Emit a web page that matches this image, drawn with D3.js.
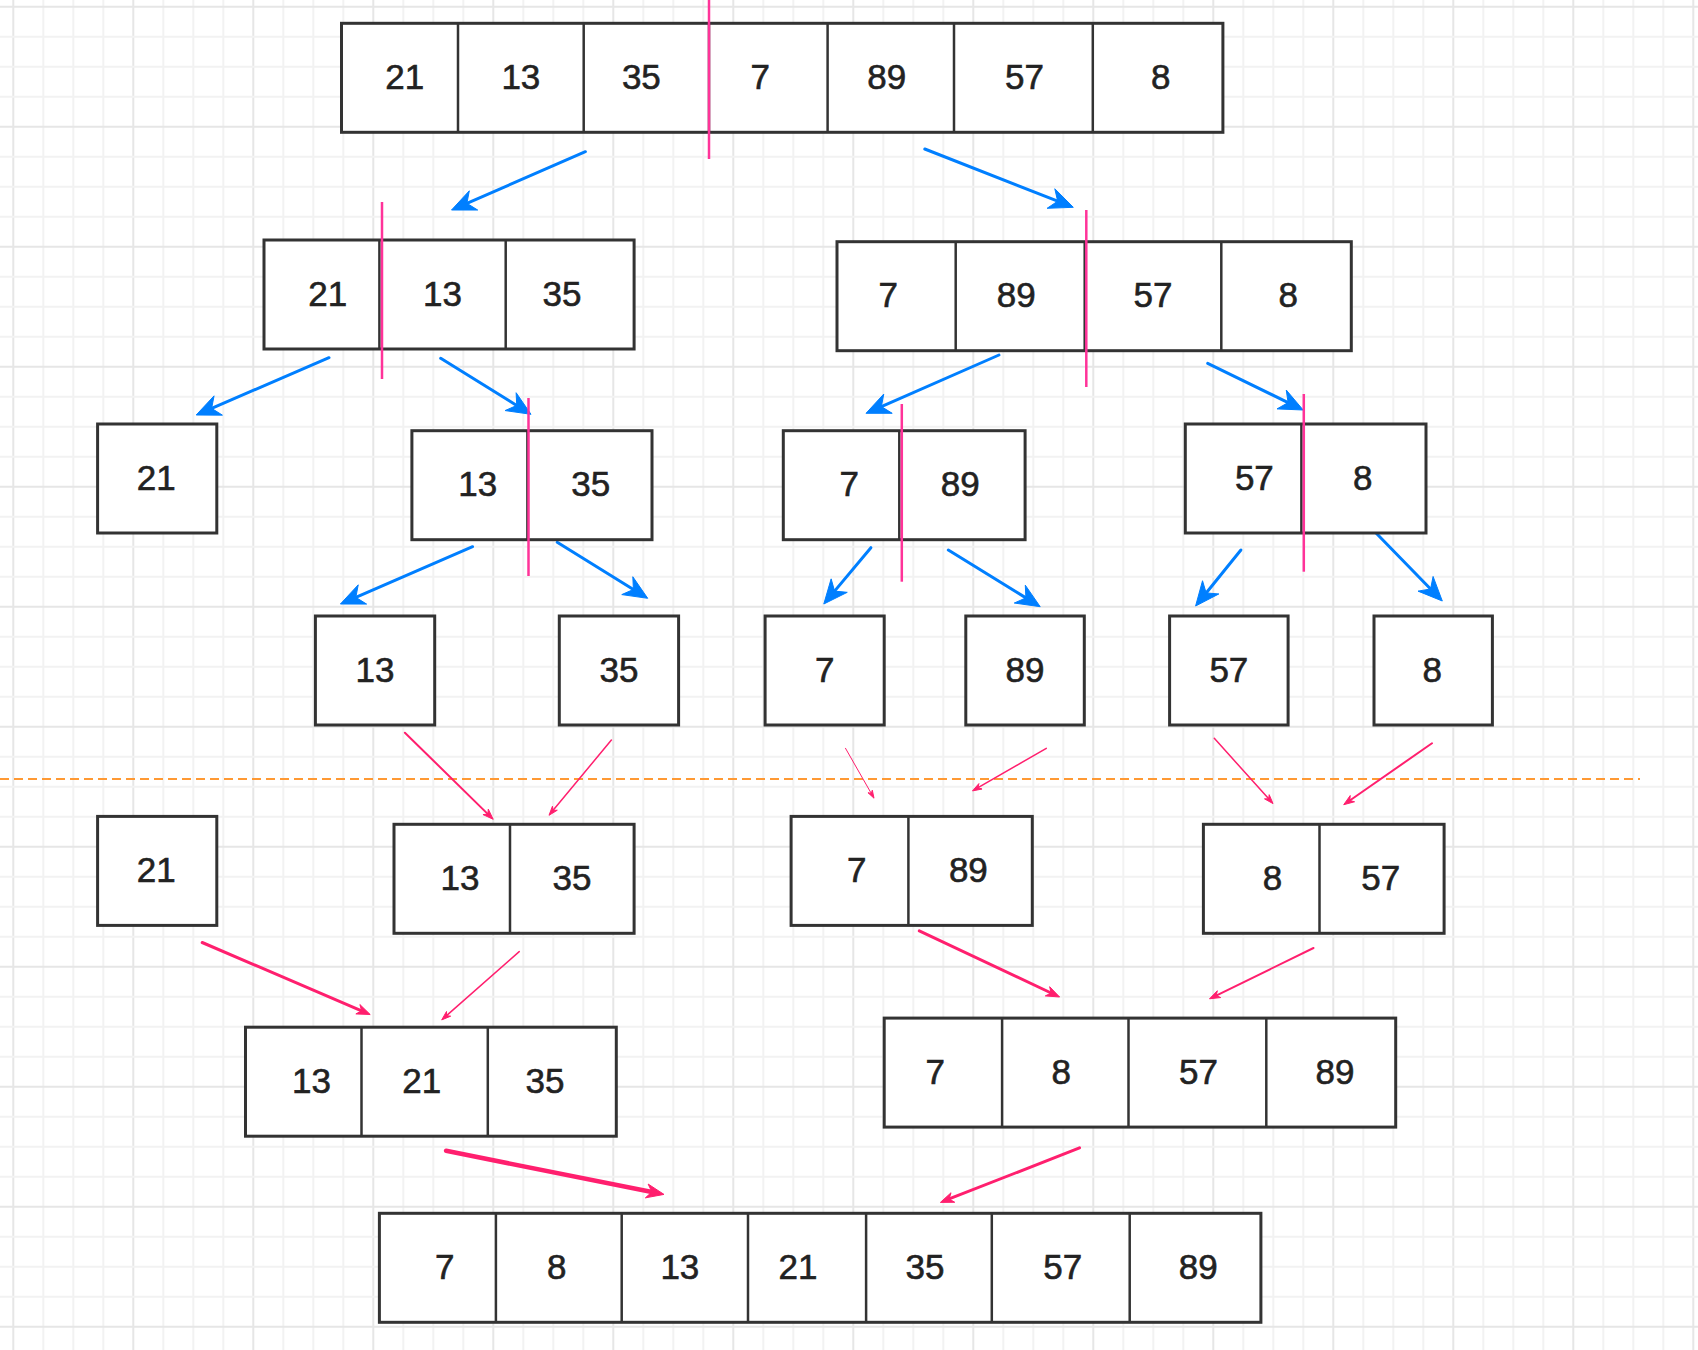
<!DOCTYPE html>
<html lang="en">
<head>
    <meta charset="UTF-8">
    <title>Merge Sort</title>
    <script src="https://d3js.org/d3.v7.min.js"></script>
    <style>
        body {
            margin: 0;
            background: #fff;
        }
        svg {
            display: block;
        }
        .cell-label {
            font-family: 'Liberation Sans', Arial, Helvetica, sans-serif;
            font-size: 35px;
            fill: #222;
            stroke: #222;
            stroke-width: 0.6px;
        }
    </style>
</head>
<body>
    <div id="chart"></div>

    <script>
        // Arrays shown in each box (split phase on top, merge phase below the dashed line)
        const boxValues = [
            [21, 13, 35, 7, 89, 57, 8],
            [21, 13, 35], [7, 89, 57, 8],
            [21], [13, 35], [7, 89], [57, 8],
            [13], [35], [7], [89], [57], [8],
            [21], [13, 35], [7, 89], [8, 57],
            [13, 21, 35], [7, 8, 57, 89],
            [7, 8, 13, 21, 35, 57, 89]
        ];

        // Cell edges of each box (diagram units)
        const boxEdges = [
            [341.5, 458, 583.7, 709, 827.6, 954, 1092.8, 1222.9],
            [264, 379.4, 505.7, 634.1], [837, 955.7, 1084.7, 1221.3, 1351.3],
            [97.6, 216.8], [411.9, 527.4, 652], [783.3, 899.3, 1025.1], [1185.3, 1301.4, 1426],
            [315.4, 434.7], [559.3, 678.6], [765.1, 884.2], [965.8, 1084.3], [1169.6, 1288.1], [1374, 1492.4],
            [97.6, 216.8], [394, 510, 634.1], [791.1, 908.4, 1032.3], [1203.4, 1319.5, 1444.1],
            [245.5, 361.5, 487.8, 616.3], [884.2, 1002.1, 1128.5, 1266.3, 1395.7],
            [379.4, 495.9, 621.7, 748, 866.1, 991.8, 1129.7, 1260.9]
        ];

        // Horizontal shift of each label from its cell centre (diagram units)
        const labelShifts = [
            [5, 0, -5, -8, -4, 1, 3],
            [6, 0, -8], [-8, -4, 0, 2],
            [-1], [8, 1], [8, -2], [11, -1],
            [0], [0], [0], [0], [0], [-1],
            [-1], [8, 0], [7, -2], [11, -1],
            [8, -3, -7], [-8, -4, 1, 4],
            [7, -2, -5, -9, -4, 2, 3]
        ];

        // Top of each box (diagram units)
        const boxTops = [
            23.3,
            240, 241.7,
            424, 430.7, 430.7, 424,
            616, 616, 616, 616, 616, 616,
            816.4, 824.3, 816.4, 824.3,
            1027.2, 1018.1,
            1213.3
        ];
        const boxHeight = 109;

        // Split points: x, y from, y to
        const splitMarks = [
            [709, 0, 159],
            [382, 202, 379],
            [1086.3, 210, 387],
            [528.5, 398, 576],
            [901.8, 404, 581.7],
            [1303.8, 394, 571.7]
        ];

        // Split arrows (blue): x1, y1, x2, y2
        const splitArrows = [
            [585.4, 151.7, 451.5, 210],
            [924.8, 149, 1073.3, 207.3],
            [329, 357.7, 196.2, 415],
            [440.7, 358.3, 531, 414.3],
            [999, 355, 866, 413.3],
            [1207.7, 363.3, 1303.2, 410],
            [472.6, 546.7, 340.4, 604],
            [557.2, 542.3, 647.7, 598.3],
            [870.9, 547.7, 823.8, 604],
            [948.3, 550, 1040.2, 606.7],
            [1240.9, 550, 1195.6, 606],
            [1375.8, 532.7, 1442.3, 601]
        ];

        // Merge arrows (pink): x1, y1, x2, y2, weight
        const mergeArrows = [
            [404.9, 732.7, 493.2, 819.3, 2],
            [611.4, 740, 549, 815.3, 1.5],
            [845.5, 748.3, 874, 798.2, 1],
            [1046.3, 748.3, 972.5, 790.9, 1.5],
            [1214.3, 738.3, 1273, 803.6, 1.5],
            [1432, 743.3, 1343.7, 804.7, 2],
            [202.2, 942.5, 370.2, 1014.5, 3],
            [519.2, 951.6, 441.7, 1019.9, 1.5],
            [919.3, 930.9, 1059.6, 997, 3],
            [1313.5, 948, 1209.5, 998.8, 2],
            [446.1, 1150.8, 664, 1194.4, 4.5],
            [1079.5, 1147.9, 940.4, 1202.4, 3]
        ];

        // Dashed line between split and merge phases: x from, x to, y
        const phaseLine = [0, 1640, 779];

        const config = {
            width: 1698,
            height: 1350,
            grid: { x0: 13.3, y0: 6.7, minor: 30, major: 120 },
            colors: {
                gridMinor: '#f2f2f2',
                gridMajor: '#e6e6e6',
                box: '#333',
                split: '#007fff',
                mark: '#ff3399',
                merge: '#ff1f6e',
                phase: '#ff9933'
            }
        };

        const x = d3.scaleLinear().domain([0, config.width]).range([0, config.width]);
        const y = d3.scaleLinear().domain([0, config.height]).range([0, config.height]);

        const svg = d3.select('#chart')
            .append('svg')
            .attr('width', config.width)
            .attr('height', config.height);

        svg.append('rect')
            .attr('width', config.width)
            .attr('height', config.height)
            .attr('fill', '#fff');

        // Background grid
        const g = config.grid;
        const gridG = svg.append('g');
        const vLines = d3.range(g.x0, config.width, g.minor);
        const hLines = d3.range(g.y0, config.height, g.minor);
        const isMajor = (v, o) => Math.abs(((v - o) / g.major) - Math.round((v - o) / g.major)) < 0.01;

        gridG.selectAll('.v')
            .data(vLines)
            .enter().append('line')
            .attr('x1', d => x(d)).attr('x2', d => x(d))
            .attr('y1', 0).attr('y2', config.height)
            .attr('stroke', d => isMajor(d, g.x0) ? config.colors.gridMajor : config.colors.gridMinor)
            .attr('stroke-width', 2);

        gridG.selectAll('.h')
            .data(hLines)
            .enter().append('line')
            .attr('y1', d => y(d)).attr('y2', d => y(d))
            .attr('x1', 0).attr('x2', config.width)
            .attr('stroke', d => isMajor(d, g.y0) ? config.colors.gridMajor : config.colors.gridMinor)
            .attr('stroke-width', 2);

        // Phase separator
        svg.append('line')
            .attr('x1', x(phaseLine[0]))
            .attr('x2', x(phaseLine[1]))
            .attr('y1', y(phaseLine[2]))
            .attr('y2', y(phaseLine[2]))
            .attr('stroke', config.colors.phase)
            .attr('stroke-width', 2)
            .attr('stroke-dasharray', '9,5');

        // Arrow drawing: shaft up to the notch, then a classic head
        function drawArrow(parent, d, color, w, headLen, headHalf) {
            const [x1, y1, x2, y2] = [x(d[0]), y(d[1]), x(d[2]), y(d[3])];
            const len = Math.hypot(x2 - x1, y2 - y1);
            const ux = (x2 - x1) / len, uy = (y2 - y1) / len;
            const px = -uy, py = ux;
            const nx = x2 - ux * headLen * 0.7, ny = y2 - uy * headLen * 0.7;
            const bx = x2 - ux * headLen, by = y2 - uy * headLen;

            parent.append('line')
                .attr('x1', x1).attr('y1', y1)
                .attr('x2', nx).attr('y2', ny)
                .attr('stroke', color)
                .attr('stroke-width', w)
                .attr('stroke-linecap', 'round');

            const head = d3.path();
            head.moveTo(x2, y2);
            head.lineTo(bx + px * headHalf, by + py * headHalf);
            head.lineTo(nx, ny);
            head.lineTo(bx - px * headHalf, by - py * headHalf);
            head.closePath();

            parent.append('path')
                .attr('d', head.toString())
                .attr('fill', color)
                .attr('stroke', color)
                .attr('stroke-width', 1)
                .attr('stroke-linejoin', 'round');
        }

        const arrowG = svg.append('g');
        splitArrows.forEach(d => drawArrow(arrowG, d, config.colors.split, 3, 24, 10.5));
        mergeArrows.forEach(d => drawArrow(arrowG, d, config.colors.merge, d[4],
            5 + 2.8 * d[4], 1.2 + 1.3 * d[4]));

        // Boxes
        const boxes = boxValues.map((vals, i) => ({
            vals,
            edges: boxEdges[i],
            shifts: labelShifts[i],
            top: boxTops[i]
        }));

        const boxG = svg.selectAll('.box')
            .data(boxes)
            .enter().append('g')
            .attr('class', 'box');

        boxG.append('rect')
            .attr('x', d => x(d.edges[0]))
            .attr('y', d => y(d.top))
            .attr('width', d => x(d.edges[d.edges.length - 1]) - x(d.edges[0]))
            .attr('height', y(boxHeight) - y(0))
            .attr('fill', '#fff')
            .attr('stroke', config.colors.box)
            .attr('stroke-width', 3);

        boxG.selectAll('.divider')
            .data(d => d.edges.slice(1, -1).map(e => ({ e, top: d.top })))
            .enter().append('line')
            .attr('class', 'divider')
            .attr('x1', d => x(d.e)).attr('x2', d => x(d.e))
            .attr('y1', d => y(d.top)).attr('y2', d => y(d.top + boxHeight))
            .attr('stroke', config.colors.box)
            .attr('stroke-width', 2.5);

        boxG.selectAll('.cell-label')
            .data(d => d.vals.map((v, i) => ({
                v,
                cx: (d.edges[i] + d.edges[i + 1]) / 2 + d.shifts[i],
                cy: d.top + boxHeight / 2
            })))
            .enter().append('text')
            .attr('class', 'cell-label')
            .attr('x', d => x(d.cx))
            .attr('y', d => y(d.cy) + 11)
            .attr('text-anchor', 'middle')
            .text(d => d.v);

        // Split marks on top of the boxes
        svg.selectAll('.mark')
            .data(splitMarks)
            .enter().append('line')
            .attr('class', 'mark')
            .attr('x1', d => x(d[0])).attr('x2', d => x(d[0]))
            .attr('y1', d => y(d[1])).attr('y2', d => y(d[2]))
            .attr('stroke', config.colors.mark)
            .attr('stroke-width', 2.5);
    </script>
</body>
</html>
